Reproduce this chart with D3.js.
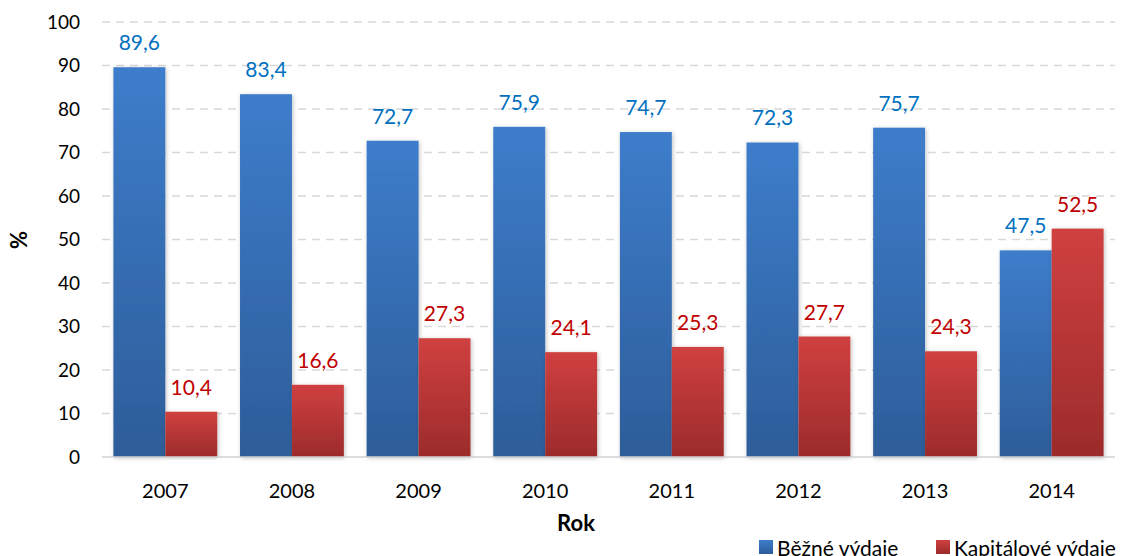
<!DOCTYPE html>
<html>
<head>
<meta charset="utf-8">
<script src="https://cdn.jsdelivr.net/npm/d3@7"></script>
<style>
  body { margin: 0; background: #fff; }
  svg { font-family: Lato, "Open Sans", sans-serif; }
</style>
</head>
<body>
<svg id="chart" width="1129" height="556"></svg>
<script>
var years = ["2007", "2008", "2009", "2010", "2011", "2012", "2013", "2014"];
var bezne = [89.6, 83.4, 72.7, 75.9, 74.7, 72.3, 75.7, 47.5];
var kapitalove = [10.4, 16.6, 27.3, 24.1, 25.3, 27.7, 24.3, 52.5];
var seriesNames = ["Běžné výdaje", "Kapitálové výdaje"];
var yTicks = [0, 10, 20, 30, 40, 50, 60, 70, 80, 90, 100];

var plotL = 102, plotR = 1115, plotT = 22, plotB = 457;
var svg = d3.select('#chart');

var defs = svg.append('defs');
function grad(id, c1, c2) {
	var g = defs.append('linearGradient').attr('id', id)
		.attr('x1', 0).attr('y1', 0).attr('x2', 0).attr('y2', 1);
	g.append('stop').attr('offset', '0%').attr('stop-color', c1);
	g.append('stop').attr('offset', '100%').attr('stop-color', c2);
}
grad('gBlue', '#3d7dcb', '#2d5d99');
grad('gRed', '#d04040', '#9c2b2b');
var f = defs.append('filter').attr('id', 'shadow')
	.attr('x', '-20%').attr('y', '-5%').attr('width', '140%').attr('height', '110%');
f.append('feDropShadow').attr('dx', 1).attr('dy', 1).attr('stdDeviation', 2)
	.attr('flood-color', '#000').attr('flood-opacity', 0.25);

var x = d3.scaleBand().domain(years).range([plotL, plotR]).paddingInner(0.18).paddingOuter(0.09);
var xs = d3.scaleBand().domain([0, 1]).range([0, x.bandwidth()]);
var y = d3.scaleLinear().domain([0, 100]).range([plotB, plotT]);

// grid
svg.append('g').selectAll('line')
	.data(yTicks.filter(function(d){ return d > 0; }))
	.enter().append('line')
	.attr('x1', plotL).attr('x2', plotR)
	.attr('y1', function(d){ return y(d); })
	.attr('y2', function(d){ return y(d); })
	.attr('stroke', '#d9d9d9').attr('stroke-width', 1.5)
	.attr('stroke-dasharray', '8,6');

// y axis labels
svg.append('g').selectAll('text')
	.data(yTicks).enter().append('text')
	.attr('x', 80).attr('y', function(d){ return y(d); })
	.attr('dy', '0.35em').attr('text-anchor', 'end')
	.attr('font-size', '19px').attr('fill', '#000')
	.text(function(d){ return d; });

var colors = ['url(#gBlue)', 'url(#gRed)'];
var labelColors = ['#0070c0', '#c00000'];
var series = [bezne, kapitalove];

series.forEach(function(vals, si){
	svg.append('g').selectAll('rect')
		.data(vals).enter().append('rect')
		.attr('x', function(d, i){ return x(years[i]) + xs(si); })
		.attr('y', function(d){ return y(d); })
		.attr('width', xs.bandwidth())
		.attr('height', function(d){ return plotB - y(d); })
		.attr('fill', colors[si])
		.attr('filter', 'url(#shadow)');
});

// baseline
svg.append('line').attr('x1', plotL).attr('x2', plotR)
	.attr('y1', plotB).attr('y2', plotB)
	.attr('stroke', '#d0d0d0').attr('stroke-width', 1.5);

series.forEach(function(vals, si){
	svg.append('g').selectAll('text')
		.data(vals).enter().append('text')
		.attr('x', function(d, i){ return x(years[i]) + xs(si) + xs.bandwidth() / 2; })
		.attr('y', function(d){ return y(d) - 17; })
		.attr('text-anchor', 'middle')
		.attr('font-size', '21px')
		.attr('fill', labelColors[si])
		.text(function(d){ return String(d).replace('.', ','); });
});

// x labels
svg.append('g').selectAll('text')
	.data(years).enter().append('text')
	.attr('x', function(d){ return x(d) + x.bandwidth() / 2; })
	.attr('y', 498)
	.attr('text-anchor', 'middle')
	.attr('font-size', '20px').attr('fill', '#000')
	.text(function(d){ return d; });

// axis titles
svg.append('text').attr('x', 576).attr('y', 531)
	.attr('text-anchor', 'middle').attr('font-size', '22px')
	.attr('font-weight', 'bold').text('Rok');
svg.append('text')
	.attr('transform', 'translate(27,240) rotate(-90)')
	.attr('text-anchor', 'middle').attr('font-size', '22px')
	.attr('font-weight', 'bold').text('%');

// legend
var legX = [759, 936];
seriesNames.forEach(function(n, i){
	var g = svg.append('g').attr('transform', 'translate(' + legX[i] + ',540)');
	g.append('rect').attr('width', 14).attr('height', 14).attr('fill', colors[i]);
	g.append('text').attr('x', 18).attr('y', 16).attr('font-size', '21px')
		.attr('fill', '#000').text(n);
});
</script>
</body>
</html>
